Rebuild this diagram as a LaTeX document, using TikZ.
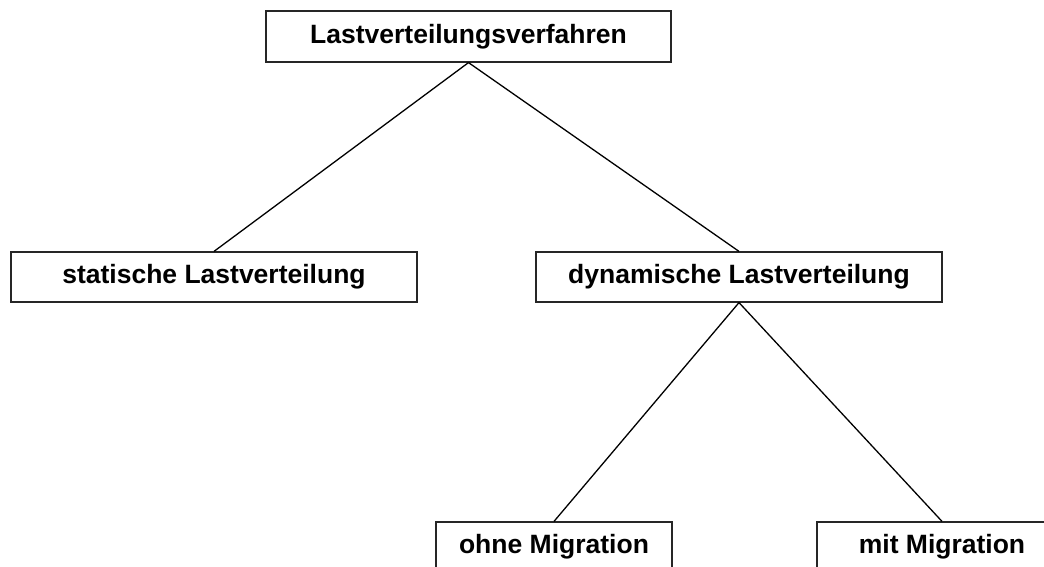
\documentclass[tikz,border=0pt]{standalone}
\usepackage{fontspec}
\setmainfont{Liberation Sans}
\begin{document}
\begin{tikzpicture}[x=1pt,y=1pt,
  box/.style={draw=black!85,line width=1.2pt,fill=white,rectangle,inner sep=0pt,
    minimum height=50pt,font=\fontsize{26.5}{30}\selectfont\bfseries},
  link/.style={line width=1.3pt,black}]
\useasboundingbox (0,0) rectangle (1044,567);
\clip (0,0) rectangle (1044,567);
\node[box,minimum width=405pt,minimum height=51pt] (root) at (468.5,530.5) {Lastverteilungsverfahren};
\node[box,minimum width=406pt] (stat) at (214,290) {statische Lastverteilung};
\node[box,minimum width=406pt] (dyn) at (739,290) {dynamische Lastverteilung};
\node[box,minimum width=236pt] (ohne) at (554,20) {ohne Migration};
\node[box,minimum width=250pt] (mit) at (942,20) {mit Migration};
\draw[link] (root.south) -- (stat.north);
\draw[link] (root.south) -- (dyn.north);
\draw[link] (dyn.south) -- (ohne.north);
\draw[link] (dyn.south) -- (mit.north);
\end{tikzpicture}
\end{document}
